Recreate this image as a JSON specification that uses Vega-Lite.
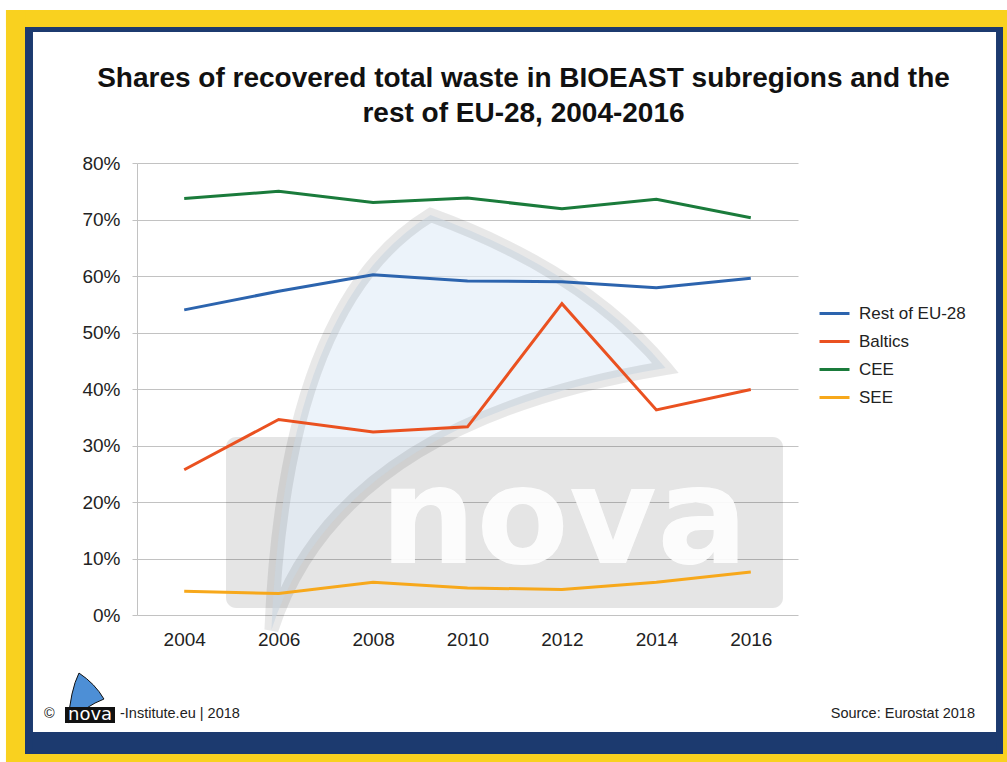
{
  "$schema": "https://vega.github.io/schema/vega-lite/v6.json",
  "width": 661,
  "height": 452,
  "autosize": "none",
  "padding": {"left": 137, "top": 163, "right": 209, "bottom": 147},
  "background": "white",
  "title": {
    "text": ["Shares of recovered total waste in BIOEAST subregions and the", "rest of EU-28, 2004-2016"],
    "font": "Liberation Sans",
    "fontSize": 28,
    "fontWeight": "bold",
    "color": "#111111",
    "anchor": "middle",
    "frame": "group",
    "dx": 56,
    "lineHeight": 35,
    "offset": -118
  },
  "config": {"view": {"stroke": null}, "font": "Liberation Sans"},
  "data": {
    "values": [
      {"year": 2004, "series": "Rest of EU-28", "value": 0.540},
      {"year": 2006, "series": "Rest of EU-28", "value": 0.573},
      {"year": 2008, "series": "Rest of EU-28", "value": 0.602},
      {"year": 2010, "series": "Rest of EU-28", "value": 0.591},
      {"year": 2012, "series": "Rest of EU-28", "value": 0.590},
      {"year": 2014, "series": "Rest of EU-28", "value": 0.579},
      {"year": 2016, "series": "Rest of EU-28", "value": 0.596},
      {"year": 2004, "series": "Baltics", "value": 0.257},
      {"year": 2006, "series": "Baltics", "value": 0.346},
      {"year": 2008, "series": "Baltics", "value": 0.324},
      {"year": 2010, "series": "Baltics", "value": 0.333},
      {"year": 2012, "series": "Baltics", "value": 0.551},
      {"year": 2014, "series": "Baltics", "value": 0.363},
      {"year": 2016, "series": "Baltics", "value": 0.399},
      {"year": 2004, "series": "CEE", "value": 0.737},
      {"year": 2006, "series": "CEE", "value": 0.750},
      {"year": 2008, "series": "CEE", "value": 0.730},
      {"year": 2010, "series": "CEE", "value": 0.738},
      {"year": 2012, "series": "CEE", "value": 0.719},
      {"year": 2014, "series": "CEE", "value": 0.736},
      {"year": 2016, "series": "CEE", "value": 0.703},
      {"year": 2004, "series": "SEE", "value": 0.042},
      {"year": 2006, "series": "SEE", "value": 0.038},
      {"year": 2008, "series": "SEE", "value": 0.058},
      {"year": 2010, "series": "SEE", "value": 0.048},
      {"year": 2012, "series": "SEE", "value": 0.045},
      {"year": 2014, "series": "SEE", "value": 0.058},
      {"year": 2016, "series": "SEE", "value": 0.076}
    ]
  },
  "layer": [
    {"data": {"values": [{}]}, "mark": {"type": "rect", "fill": "#f9d11f"},
     "encoding": {"x": {"datum": 2000.225, "type": "quantitative"}, "x2": {"datum": 2021.5}, "y": {"datum": 1.0407, "type": "quantitative"}, "y2": {"datum": 1.0708}}},
    {"data": {"values": [{}]}, "mark": {"type": "rect", "fill": "#f9d11f"},
     "encoding": {"x": {"datum": 2000.225, "type": "quantitative"}, "x2": {"datum": 2021.5}, "y": {"datum": -0.28, "type": "quantitative"}, "y2": {"datum": -0.246}}},
    {"data": {"values": [{}]}, "mark": {"type": "rect", "fill": "#f9d11f"},
     "encoding": {"x": {"datum": 2000.225, "type": "quantitative"}, "x2": {"datum": 2000.628}, "y": {"datum": -0.28, "type": "quantitative"}, "y2": {"datum": 1.0708}}},
    {"data": {"values": [{}]}, "mark": {"type": "rect", "fill": "#f9d11f"},
     "encoding": {"x": {"datum": 2021.342, "type": "quantitative"}, "x2": {"datum": 2021.5}, "y": {"datum": -0.28, "type": "quantitative"}, "y2": {"datum": 1.0708}}},
    {"data": {"values": [{}]}, "mark": {"type": "rect", "fill": "#1c3a6f"},
     "encoding": {"x": {"datum": 2000.628, "type": "quantitative"}, "x2": {"datum": 2021.342}, "y": {"datum": 1.0319, "type": "quantitative"}, "y2": {"datum": 1.0407}}},
    {"data": {"values": [{}]}, "mark": {"type": "rect", "fill": "#1c3a6f"},
     "encoding": {"x": {"datum": 2000.628, "type": "quantitative"}, "x2": {"datum": 2021.342}, "y": {"datum": -0.246, "type": "quantitative"}, "y2": {"datum": -0.2071}}},
    {"data": {"values": [{}]}, "mark": {"type": "rect", "fill": "#1c3a6f"},
     "encoding": {"x": {"datum": 2000.628, "type": "quantitative"}, "x2": {"datum": 2000.797}, "y": {"datum": -0.246, "type": "quantitative"}, "y2": {"datum": 1.0407}}},
    {"data": {"values": [{}]}, "mark": {"type": "rect", "fill": "#1c3a6f"},
     "encoding": {"x": {"datum": 2021.194, "type": "quantitative"}, "x2": {"datum": 2021.342}, "y": {"datum": -0.246, "type": "quantitative"}, "y2": {"datum": 1.0407}}},
    {"data": {"values": [{}]}, "mark": {"type": "rect", "fill": "black", "fillOpacity": 0.1, "cornerRadius": 10},
     "encoding": {"x": {"datum": 2004.885, "type": "quantitative"}, "x2": {"datum": 2016.682}, "y": {"datum": 0.0124, "type": "quantitative"}, "y2": {"datum": 0.315}}},
    {"data": {"values": [{}]},
     "mark": {"type": "point", "shape": "M -0.912 0.967 Q -0.85 -0.55 -0.172 -0.963 Q 0.55 -0.7 0.921 -0.251 Q -0.6 0.0 -0.912 0.967 Z", "filled": true, "fill": "#dfebf7", "fillOpacity": 0.6, "stroke": "black", "strokeOpacity": 0.09, "strokeWidth": 14, "opacity": 1, "size": 184900},
     "encoding": {"x": {"datum": 2010.0, "type": "quantitative"}, "y": {"datum": 0.3416, "type": "quantitative"}}},
    {"data": {"values": [{}]},
     "mark": {"type": "text", "text": "nova", "font": "DejaVu Sans", "fontSize": 135, "fontWeight": "bold", "fill": "white", "opacity": 0.92, "align": "center", "baseline": "alphabetic"},
     "encoding": {"x": {"datum": 2012.044, "type": "quantitative"}, "y": {"datum": 0.092, "type": "quantitative"}}},
    {
      "mark": {"type": "line", "strokeWidth": 3},
      "encoding": {
        "x": {
          "field": "year", "type": "quantitative",
          "scale": {"domain": [2003, 2017], "nice": false, "zero": false},
          "axis": {"values": [2004, 2006, 2008, 2010, 2012, 2014, 2016], "format": "d", "title": null, "grid": false, "ticks": false, "tickSize": 0, "domain": false, "labelFontSize": 19, "labelColor": "#222222", "labelPadding": 15, "labelFont": "Liberation Sans"}
        },
        "y": {
          "field": "value", "type": "quantitative",
          "scale": {"domain": [0, 0.8], "nice": false, "zero": false},
          "axis": {"values": [0, 0.1, 0.2, 0.3, 0.4, 0.5, 0.6, 0.7, 0.8], "format": ".0%", "title": null, "grid": true, "gridColor": "#c2c2c2", "gridWidth": 1, "domainColor": "#c2c2c2", "tickColor": "#c2c2c2", "tickSize": 5, "labelPadding": 12, "labelFontSize": 19, "labelColor": "#222222", "labelFont": "Liberation Sans"}
        },
        "color": {
          "field": "series", "type": "nominal",
          "scale": {"domain": ["Rest of EU-28", "Baltics", "CEE", "SEE"], "range": ["#2c64ae", "#ea5120", "#1a7b3b", "#f7a81b"]},
          "legend": {"title": null, "orient": "none", "legendX": 681, "legendY": 134, "symbolType": "stroke", "symbolSize": 900, "symbolStrokeWidth": 3, "labelFontSize": 17, "labelColor": "#222222", "labelFont": "Liberation Sans", "labelOffset": 8, "rowPadding": 3, "padding": 0}
        }
      }
    },
    {"data": {"values": [{}]},
     "mark": {"type": "point", "shape": "M -0.69 0.96 Q -0.6 -0.3 -0.27 -0.96 Q 0.35 -0.55 0.69 0.04 Q 0 0.3 -0.69 0.96 Z", "filled": true, "fill": "#4d8fd6", "stroke": "#111111", "strokeWidth": 1, "opacity": 1, "size": 2704},
     "encoding": {"x": {"datum": 2001.92, "type": "quantitative"}, "y": {"datum": -0.1469, "type": "quantitative"}}},
    {"data": {"values": [{}]}, "mark": {"type": "rect", "fill": "#111111"},
     "encoding": {"x": {"datum": 2001.475, "type": "quantitative"}, "x2": {"datum": 2002.534}, "y": {"datum": -0.1628, "type": "quantitative"}, "y2": {"datum": -0.1912}}},
    {"data": {"values": [{}]},
     "mark": {"type": "text", "text": "nova", "font": "DejaVu Sans", "fontSize": 18, "fill": "white", "align": "center", "baseline": "alphabetic"},
     "encoding": {"x": {"datum": 2002.005, "type": "quantitative"}, "y": {"datum": -0.1858, "type": "quantitative"}}},
    {"data": {"values": [{}]},
     "mark": {"type": "text", "text": "©", "font": "Liberation Sans", "fontSize": 14.5, "fill": "#222222", "align": "left", "baseline": "alphabetic"},
     "encoding": {"x": {"datum": 2001.03, "type": "quantitative"}, "y": {"datum": -0.1823, "type": "quantitative"}}},
    {"data": {"values": [{}]},
     "mark": {"type": "text", "text": "-Institute.eu | 2018", "font": "Liberation Sans", "fontSize": 14.5, "fill": "#222222", "align": "left", "baseline": "alphabetic"},
     "encoding": {"x": {"datum": 2002.64, "type": "quantitative"}, "y": {"datum": -0.1823, "type": "quantitative"}}},
    {"data": {"values": [{}]},
     "mark": {"type": "text", "text": "Source: Eurostat 2018", "font": "Liberation Sans", "fontSize": 14.5, "fill": "#222222", "align": "right", "baseline": "alphabetic"},
     "encoding": {"x": {"datum": 2020.749, "type": "quantitative"}, "y": {"datum": -0.1823, "type": "quantitative"}}}
  ]
}
